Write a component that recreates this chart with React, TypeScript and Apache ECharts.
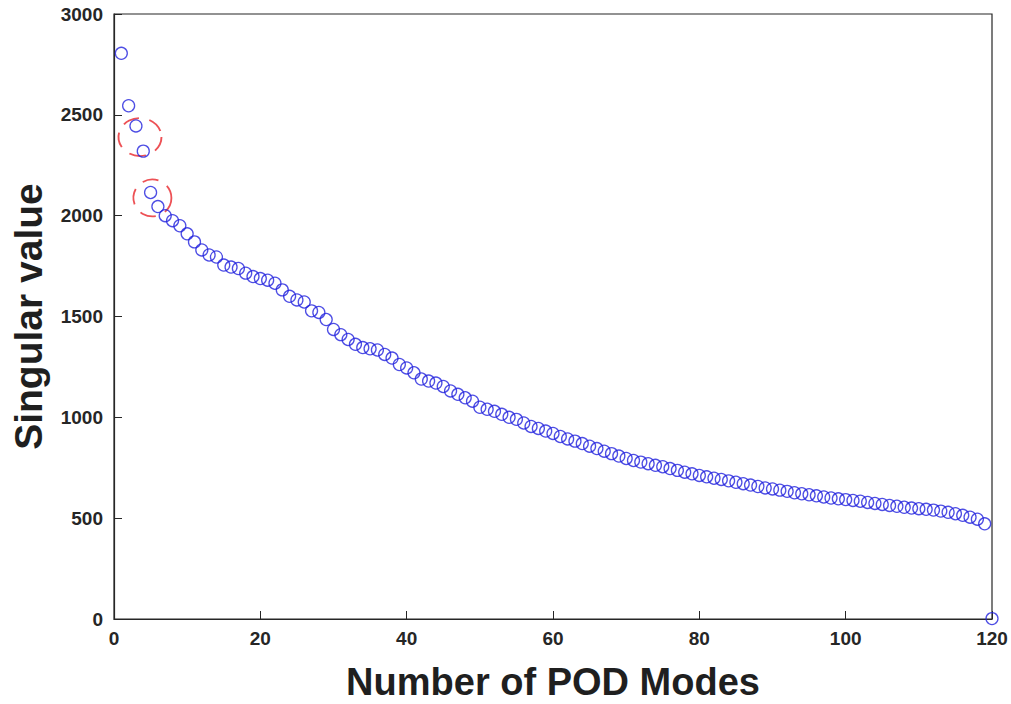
import React, { useEffect, useRef } from "react";
import * as echarts from "echarts";

const modeValues: number[] = [
  2805, 2545, 2445, 2320, 2115, 2045, 2000, 1975, 1950, 1910,
  1870, 1830, 1805, 1795, 1755, 1745, 1738, 1715, 1698, 1688,
  1680, 1665, 1632, 1600, 1582, 1572, 1528, 1520, 1485, 1436,
  1410, 1386, 1362, 1346, 1340, 1334, 1312, 1294, 1262, 1245,
  1221, 1190, 1180, 1170, 1153, 1131, 1114, 1097, 1080, 1050,
  1040, 1030, 1015, 1000, 990, 972, 955, 945, 932, 920,
  905, 893, 882, 870, 857, 845, 832, 820, 808, 796,
  786, 778, 770, 762, 755, 746, 737, 728, 720, 712,
  705, 698, 692, 685, 678, 671, 664, 657, 650, 645,
  639, 633, 626, 621, 616, 611, 605, 600, 596, 592,
  588, 584, 578, 573, 568, 563, 559, 554, 550, 547,
  544, 540, 535, 529, 522, 514, 505, 495, 472, 2,
];
const modeNumbers: number[] = modeValues.map((_, i) => i + 1);

const highlightX: number[] = [3.55, 5.25];
const highlightY: number[] = [2390, 2088];

const xTicks = { min: 0, max: 120, interval: 20 };
const yTicks = { min: 0, max: 3000, interval: 500 };

const FONT = "'Liberation Sans', Arial, sans-serif";
const AXIS_COLOR = "#262626";

export default function App() {
  const ref = useRef<HTMLDivElement>(null);
  useEffect(() => {
    if (!ref.current) return;
    const chart = echarts.init(ref.current, null, { renderer: "svg" });
    const points = modeNumbers.map((n, i) => [n, modeValues[i]]);
    const sizes: number[][] = [
      [43, 38],
      [38, 37],
    ];
    const highlights = highlightX.map((x, i) => ({
      value: [x, highlightY[i]],
      symbolSize: sizes[i],
    }));
    chart.setOption({
      animation: false,
      backgroundColor: "#ffffff",
      grid: {
        left: 114,
        right: 19,
        top: 14,
        bottom: 85,
        outerBoundsMode: "none",
        containLabel: false,
        show: true,
        borderColor: AXIS_COLOR,
        borderWidth: 1.2,
        backgroundColor: "transparent",
      },
      xAxis: {
        type: "value",
        min: xTicks.min,
        max: xTicks.max,
        interval: xTicks.interval,
        name: "Number of POD Modes",
        nameLocation: "middle",
        nameGap: 45,
        nameTextStyle: {
          fontFamily: FONT,
          fontWeight: "bold",
          fontSize: 38,
          lineHeight: 36,
          color: "#1f1f1f",
        },
        axisLine: { show: true, lineStyle: { color: AXIS_COLOR, width: 1.2 } },
        axisTick: { show: true, inside: true, length: 8, lineStyle: { color: AXIS_COLOR, width: 1 } },
        axisLabel: {
          fontFamily: FONT,
          fontWeight: "bold",
          fontSize: 19,
          color: AXIS_COLOR,
          margin: 10,
          formatter: (v: number) => String(v),
        },
        splitLine: { show: false },
      },
      yAxis: {
        type: "value",
        min: yTicks.min,
        max: yTicks.max,
        interval: yTicks.interval,
        name: "Singular value",
        nameLocation: "middle",
        nameGap: 66,
        nameTextStyle: {
          fontFamily: FONT,
          fontWeight: "bold",
          fontSize: 39,
          color: "#1f1f1f",
        },
        axisLine: { show: true, lineStyle: { color: AXIS_COLOR, width: 1.2 } },
        axisTick: { show: true, inside: true, length: 8, lineStyle: { color: AXIS_COLOR, width: 1 } },
        axisLabel: {
          fontFamily: FONT,
          fontWeight: "bold",
          fontSize: 19,
          color: AXIS_COLOR,
          margin: 11,
          formatter: (v: number) => String(v),
        },
        splitLine: { show: false },
      },
      series: [
        {
          type: "scatter",
          name: "highlight",
          data: highlights,
          symbol: "circle",
          z: 1,
          itemStyle: {
            color: "transparent",
            borderColor: "#e8262a",
            borderWidth: 1.8,
            borderType: [16, 10],
          },
          silent: true,
        },
        {
          type: "scatter",
          name: "Singular value",
          data: points,
          symbol: "circle",
          symbolSize: 12,
          clip: false,
          z: 2,
          itemStyle: {
            color: "transparent",
            borderColor: "#2222dd",
            borderWidth: 1.3,
          },
        },
      ],
    });
    return () => chart.dispose();
  }, []);
  return (
    <div
      ref={ref}
      style={{ position: "fixed", left: 0, top: 0, width: 1011, height: 704, background: "#fff" }}
    />
  );
}
